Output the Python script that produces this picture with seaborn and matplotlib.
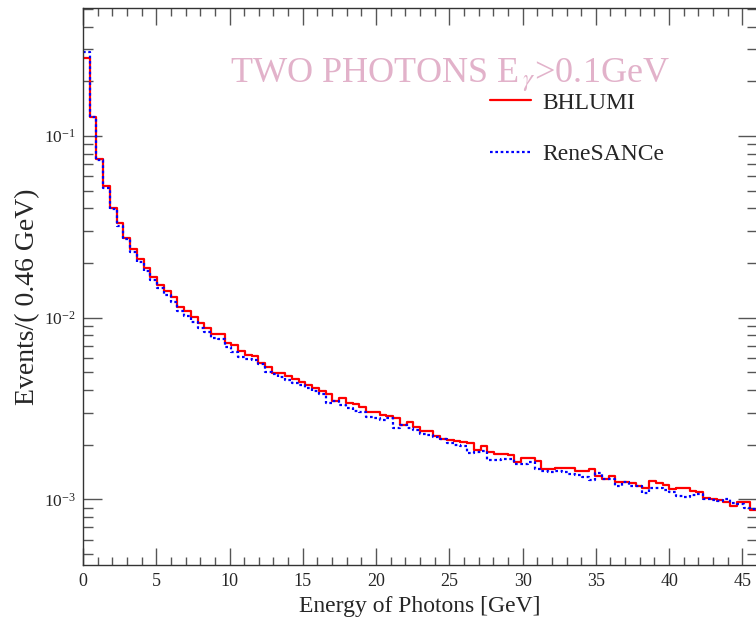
import matplotlib
matplotlib.use("Agg")
import matplotlib.pyplot as plt
from matplotlib.lines import Line2D
from matplotlib.ticker import MultipleLocator, LogLocator, NullFormatter
import numpy as np
import pandas as pd
import seaborn as sns

# histogram contents, 100 bins of 0.46 GeV
bin_width = 0.46
n_bins = 100

bhlumi = [
    0.270, 0.1268, 0.0744, 0.0531, 0.0403, 0.0330, 0.0275, 0.0240, 0.0210, 0.0187,
    0.0167, 0.0152, 0.0140, 0.0130, 0.01148, 0.01087, 0.0101, 0.00935, 0.00878, 0.00818,
    0.00808, 0.00729, 0.00711, 0.00653, 0.00621, 0.00613, 0.00564, 0.00536, 0.00497, 0.00497,
    0.00476, 0.00457, 0.00440, 0.00425, 0.00410, 0.00395, 0.00378, 0.00348, 0.00362, 0.00341,
    0.00333, 0.00323, 0.00303, 0.00303, 0.00290, 0.00287, 0.00279, 0.00258, 0.00267, 0.00250,
    0.00238, 0.00238, 0.00222, 0.00216, 0.00213, 0.00210, 0.00206, 0.00204, 0.00186, 0.00196,
    0.00182, 0.00177, 0.00177, 0.00175, 0.00161, 0.00169, 0.00169, 0.00163, 0.00146, 0.00146,
    0.00149, 0.00149, 0.00149, 0.00143, 0.00144, 0.00146, 0.00134, 0.00130, 0.00134, 0.00124,
    0.00124, 0.00123, 0.00119, 0.00115, 0.00126, 0.00123, 0.00120, 0.00114, 0.00116, 0.00115,
    0.00111, 0.00110, 0.00102, 0.00100, 0.00099, 0.00097, 0.00092, 0.00097, 0.00097, 0.00087,
]

renesance = [
    0.289, 0.128, 0.0735, 0.0520, 0.0395, 0.0320, 0.0270, 0.0231, 0.0203, 0.0180,
    0.0162, 0.0146, 0.0133, 0.01222, 0.01087, 0.01023, 0.00948, 0.00878, 0.00836, 0.00774,
    0.00759, 0.00691, 0.00648, 0.00608, 0.00589, 0.00583, 0.00555, 0.00502, 0.00488, 0.00472,
    0.00455, 0.00438, 0.00424, 0.00408, 0.00395, 0.00382, 0.00337, 0.00348, 0.00330, 0.00320,
    0.00305, 0.00303, 0.00284, 0.00281, 0.00275, 0.00279, 0.00247, 0.00256, 0.00247, 0.00240,
    0.00228, 0.00227, 0.00219, 0.00215, 0.00205, 0.00200, 0.00196, 0.00180, 0.00182, 0.00184,
    0.00164, 0.00164, 0.00167, 0.00166, 0.00157, 0.00156, 0.00161, 0.00147, 0.00144, 0.00141,
    0.00144, 0.00141, 0.00137, 0.00136, 0.00133, 0.00128, 0.00140, 0.00130, 0.00130, 0.00118,
    0.00124, 0.00119, 0.00118, 0.00108, 0.00116, 0.00115, 0.00113, 0.00110, 0.00104, 0.00103,
    0.00105, 0.00107, 0.00100, 0.00099, 0.00098, 0.00101, 0.00095, 0.00094, 0.00090, 0.00088,
]

e_max = n_bins * bin_width
centers = (np.arange(n_bins) + 0.5) * bin_width
df = pd.DataFrame({"E": centers, "bhlumi": bhlumi, "renesance": renesance})

sns.set_style("ticks")
plt.rcParams["font.family"] = ["Liberation Serif", "DejaVu Serif"]
plt.rcParams["mathtext.fontset"] = "stix"

fig = plt.figure(figsize=(7.56, 6.18), dpi=100)
ax = fig.add_axes([83 / 756, 53 / 618, 674 / 756, 557.5 / 618])

sns.histplot(data=df, x="E", weights="bhlumi", bins=n_bins, binrange=(0, e_max),
             element="step", fill=False, color="#ff0000", linewidth=1.6, ax=ax)
sns.histplot(data=df, x="E", weights="renesance", bins=n_bins, binrange=(0, e_max),
             element="step", fill=False, color="#0000ff", linewidth=1.6,
             linestyle=(0, (1.2, 1.2)), ax=ax)

ax.set_yscale("log")
ax.set_xlim(0, e_max)
ax.set_ylim(4.35e-4, 0.51)

ax.xaxis.set_major_locator(MultipleLocator(5))
ax.xaxis.set_minor_locator(MultipleLocator(1))
ax.yaxis.set_major_locator(LogLocator(base=10))
ax.yaxis.set_minor_locator(LogLocator(base=10, subs=np.arange(2, 10)))
ax.yaxis.set_minor_formatter(NullFormatter())

ax.tick_params(which="both", direction="in", top=True, right=True,
               color="#555555", width=1, labelsize=13)
ax.tick_params(axis="x", which="major", length=12, pad=6)
ax.tick_params(axis="x", which="minor", length=6)
ax.tick_params(axis="y", which="major", length=14, pad=5, labelsize=12.5)
ax.tick_params(axis="y", which="minor", length=7)
for s in ax.spines.values():
    s.set_linewidth(1)
    s.set_color("#333333")

ax.set_xlabel("Energy of Photons [GeV]", fontsize=17)
ax.set_ylabel("Events/( 0.46 GeV)", fontsize=20)
ax.xaxis.set_label_coords(0.5, -0.055)
ax.yaxis.set_label_coords(-0.064, 0.481)

fig.text(230 / 756, 1 - 82 / 618, r"TWO PHOTONS E$_{\,\gamma}$>0.1GeV",
         fontsize=26, color="#e2b2ca", ha="left", va="baseline")

handles = [
    Line2D([], [], color="#ff0000", linewidth=1.6),
    Line2D([], [], color="#0000ff", linewidth=1.6, linestyle=(0, (1.2, 1.2))),
]
ax.legend(handles, ["BHLUMI", "ReneSANCe"], loc="upper left",
          bbox_to_anchor=(490 / 756, 1 - 92 / 618), bbox_transform=fig.transFigure,
          frameon=False, fontsize=17, handlelength=1.75, handletextpad=0.45,
          labelspacing=1.28, borderpad=0, borderaxespad=0)

fig.savefig("out.png", dpi=100)
plt.close(fig)
